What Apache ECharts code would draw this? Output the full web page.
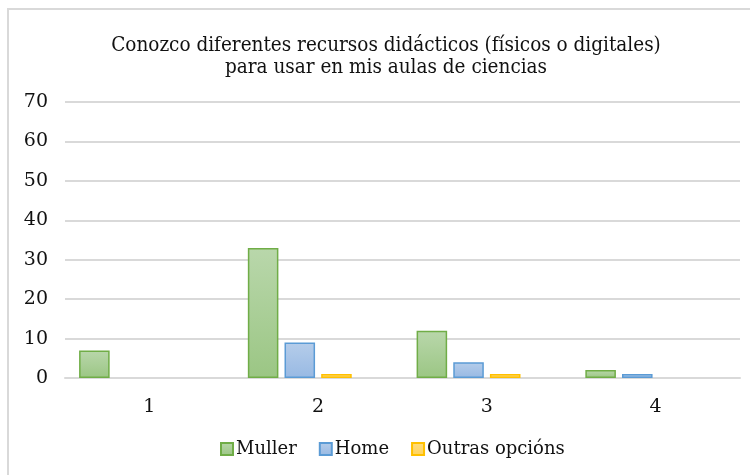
<!DOCTYPE html>
<html>
<head>
<meta charset="utf-8">
<script src="https://cdn.jsdelivr.net/npm/echarts@6/dist/echarts.min.js"></script>
<style>
html,body{margin:0;padding:0;background:#fff;}
#c{width:750px;height:475px;}
</style>
</head>
<body>
<div id="c"></div>
<script>
const categories = ['1', '2', '3', '4'];
const muller = [7, 33, 12, 2];
const home = [0, 9, 4, 1];
const outras = [0, 1, 1, 0];
const seriesNames = ['Muller', 'Home', 'Outras opcións'];
const titleText = 'Conozco diferentes recursos didácticos (físicos o digitales)\npara usar en mis aulas de ciencias';

const serif = '"DejaVu Serif", serif';
function grad(top, bottom) {
  return new echarts.graphic.LinearGradient(0, 0, 0, 1, [
    { offset: 0, color: top }, { offset: 1, color: bottom }
  ]);
}
// zero values draw no bar (as in the reference)
function hideZero(arr) {
  return arr.map(v => v === 0 ? { value: v, itemStyle: { borderWidth: 0, opacity: 0 } } : v);
}
const chart = echarts.init(document.getElementById('c'));
chart.setOption({
  animation: false,
  backgroundColor: '#fff',
  graphic: [{
    type: 'rect', shape: { x: 8, y: 9, width: 800, height: 500 },
    style: { fill: 'none', stroke: '#d9d9d9', lineWidth: 2 }, silent: true
  }],
  title: {
    text: titleText, left: 381, top: 30, textAlign: 'center',
    textStyle: { fontFamily: '"DejaVu Serif Condensed", "DejaVu Serif", serif', fontWeight: 'normal', fontSize: 20.5, color: '#111', lineHeight: 22, align: 'center' }
  },
  legend: {
    data: seriesNames, bottom: 12, left: 215, icon: 'rect',
    itemWidth: 12, itemHeight: 12, itemGap: 22,
    textStyle: { fontFamily: serif, fontSize: 18, color: '#111', padding: [0, 0, 0, -2] }
  },
  grid: { left: 65, right: 10, top: 102, bottom: 97, containLabel: false },
  xAxis: {
    type: 'category', data: categories,
    axisLine: { lineStyle: { color: '#d9d9d9', width: 2 } },
    axisTick: { show: false },
    axisLabel: { fontFamily: serif, fontSize: 19, color: '#111', margin: 20 }
  },
  yAxis: {
    type: 'value', min: 0, max: 70, interval: 10,
    axisLine: { show: false }, axisTick: { show: false },
    splitLine: { lineStyle: { color: '#d9d9d9', width: 2 } },
    axisLabel: { fontFamily: serif, fontSize: 19, color: '#111', margin: 17 }
  },
  series: [
    { name: seriesNames[0], type: 'bar', data: hideZero(muller), barGap: '20%', barCategoryGap: '16.7%',
      itemStyle: { color: grad('#b9d7ab', '#9bc684'), borderColor: '#70ad47', borderWidth: 1.5 } },
    { name: seriesNames[1], type: 'bar', data: hideZero(home),
      itemStyle: { color: grad('#b5cdea', '#98b9e3'), borderColor: '#5b9bd5', borderWidth: 1.5 } },
    { name: seriesNames[2], type: 'bar', data: hideZero(outras),
      itemStyle: { color: grad('#ffdd80', '#ffd35c'), borderColor: '#ffc000', borderWidth: 1.5 } },
    { name: '', type: 'bar', data: [null, null, null, null] }
  ]
});
</script>
</body>
</html>
